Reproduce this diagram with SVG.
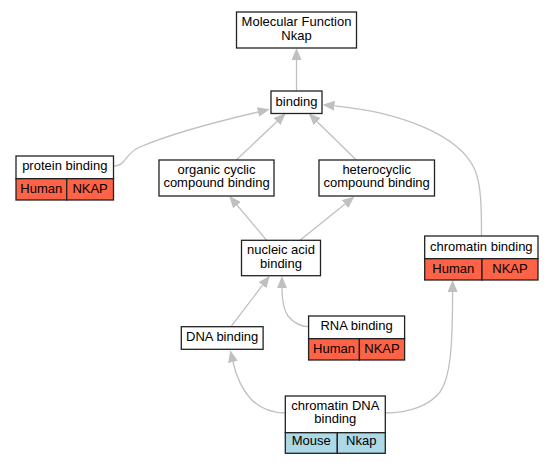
<svg xmlns="http://www.w3.org/2000/svg" width="552" height="464" viewBox="0 0 552 464">
<defs>
<marker id="arr" markerUnits="userSpaceOnUse" markerWidth="12" markerHeight="10" refX="0" refY="5" orient="auto" viewBox="0 0 12 10">
<path d="M0,0 L12,5 L0,10 z" fill="#c0c0c0"/>
</marker>
<style>
.box{fill:#ffffff;stroke:#222;stroke-width:1.3}
.hum{fill:#ff6347;stroke:#222;stroke-width:1.3}
.mou{fill:#add8e6;stroke:#222;stroke-width:1.3}
.edge{fill:none;stroke:#c0c0c0;stroke-width:1.3;marker-end:url(#arr)}
text{font-family:"Liberation Sans",Arial,sans-serif;font-size:13px;fill:#000;text-anchor:middle}
</style>
</defs>
<rect width="552" height="464" fill="#ffffff"/>
<g id="edges">
<path class="edge" d="M296.5,90.7 L296.5,60"/>
<path class="edge" d="M113.6,166 C118,166 121,165 124,161 C128,156 132,150 140,147 C170,134 215,122 258,112"/>
<path class="edge" d="M236.3,160 L277,121.5"/>
<path class="edge" d="M356.3,160 L317.2,121.7"/>
<path class="edge" d="M481.5,236 C481.5,205 481,185 475,170 C460,135 400,112 334.5,105.8"/>
<path class="edge" d="M266.6,240.3 L237,205.2"/>
<path class="edge" d="M300,240.3 L345.1,204"/>
<path class="edge" d="M231,326.7 L262.5,285.2"/>
<path class="edge" d="M308.6,326.7 C300,326.7 293,322 288,316 C283,309 282,298 282,288"/>
<path class="edge" d="M285.3,413 C270,413 258,407 250,398 C241,388 236,375 233,362"/>
<path class="edge" d="M385.3,413 C410,413 430,405 440,392 C450,378 452.6,350 452.6,292"/>
</g>
<g id="molfn">
<rect class="box" x="236.5" y="12" width="120" height="36"/>
<text x="296.5" y="26">Molecular Function</text>
<text x="296.5" y="39.5">Nkap</text>
</g>
<g id="binding">
<rect class="box" x="271" y="91" width="51" height="22.5"/>
<text x="296.5" y="105.5">binding</text>
</g>
<g id="protein_binding">
<rect class="box" x="16" y="156" width="97.5" height="22.7"/>
<rect class="hum" x="16" y="178.7" width="50.7" height="21.3"/>
<rect class="hum" x="66.7" y="178.7" width="46.8" height="21.3"/>
<text x="64.8" y="170">protein binding</text>
<text x="41.3" y="193">Human</text>
<text x="90.1" y="193">NKAP</text>
</g>
<g id="organic_cyclic">
<rect class="box" x="159" y="160" width="115" height="36"/>
<text x="216.5" y="173.5">organic cyclic</text>
<text x="216.5" y="187">compound binding</text>
</g>
<g id="heterocyclic">
<rect class="box" x="319" y="160" width="115.5" height="36"/>
<text x="376.7" y="173.5">heterocyclic</text>
<text x="376.7" y="187">compound binding</text>
</g>
<g id="nucleic_acid">
<rect class="box" x="241.5" y="240.3" width="79" height="35.4"/>
<text x="281" y="254">nucleic acid</text>
<text x="281" y="267.5">binding</text>
</g>
<g id="chromatin_binding">
<rect class="box" x="424.7" y="236" width="113.3" height="22.7"/>
<rect class="hum" x="424.7" y="258.7" width="57.3" height="21.3"/>
<rect class="hum" x="482" y="258.7" width="56" height="21.3"/>
<text x="481.3" y="250.5">chromatin binding</text>
<text x="453.3" y="272.5">Human</text>
<text x="510" y="272.5">NKAP</text>
</g>
<g id="dna_binding">
<rect class="box" x="181.3" y="326.7" width="81.8" height="22.6"/>
<text x="222.2" y="341">DNA binding</text>
</g>
<g id="rna_binding">
<rect class="box" x="308.6" y="316" width="96" height="22.7"/>
<rect class="hum" x="308.6" y="338.7" width="50.8" height="21.3"/>
<rect class="hum" x="359.4" y="338.7" width="45.2" height="21.3"/>
<text x="356.6" y="330.3">RNA binding</text>
<text x="334" y="353">Human</text>
<text x="382" y="353">NKAP</text>
</g>
<g id="chromatin_dna_binding">
<rect class="box" x="285.3" y="396" width="100" height="36.7"/>
<rect class="mou" x="285.3" y="432.7" width="52" height="20.6"/>
<rect class="mou" x="337.3" y="432.7" width="48" height="20.6"/>
<text x="335.3" y="409.5">chromatin DNA</text>
<text x="335.3" y="423">binding</text>
<text x="311.3" y="445.3">Mouse</text>
<text x="361.3" y="445.3">Nkap</text>
</g>
</svg>
